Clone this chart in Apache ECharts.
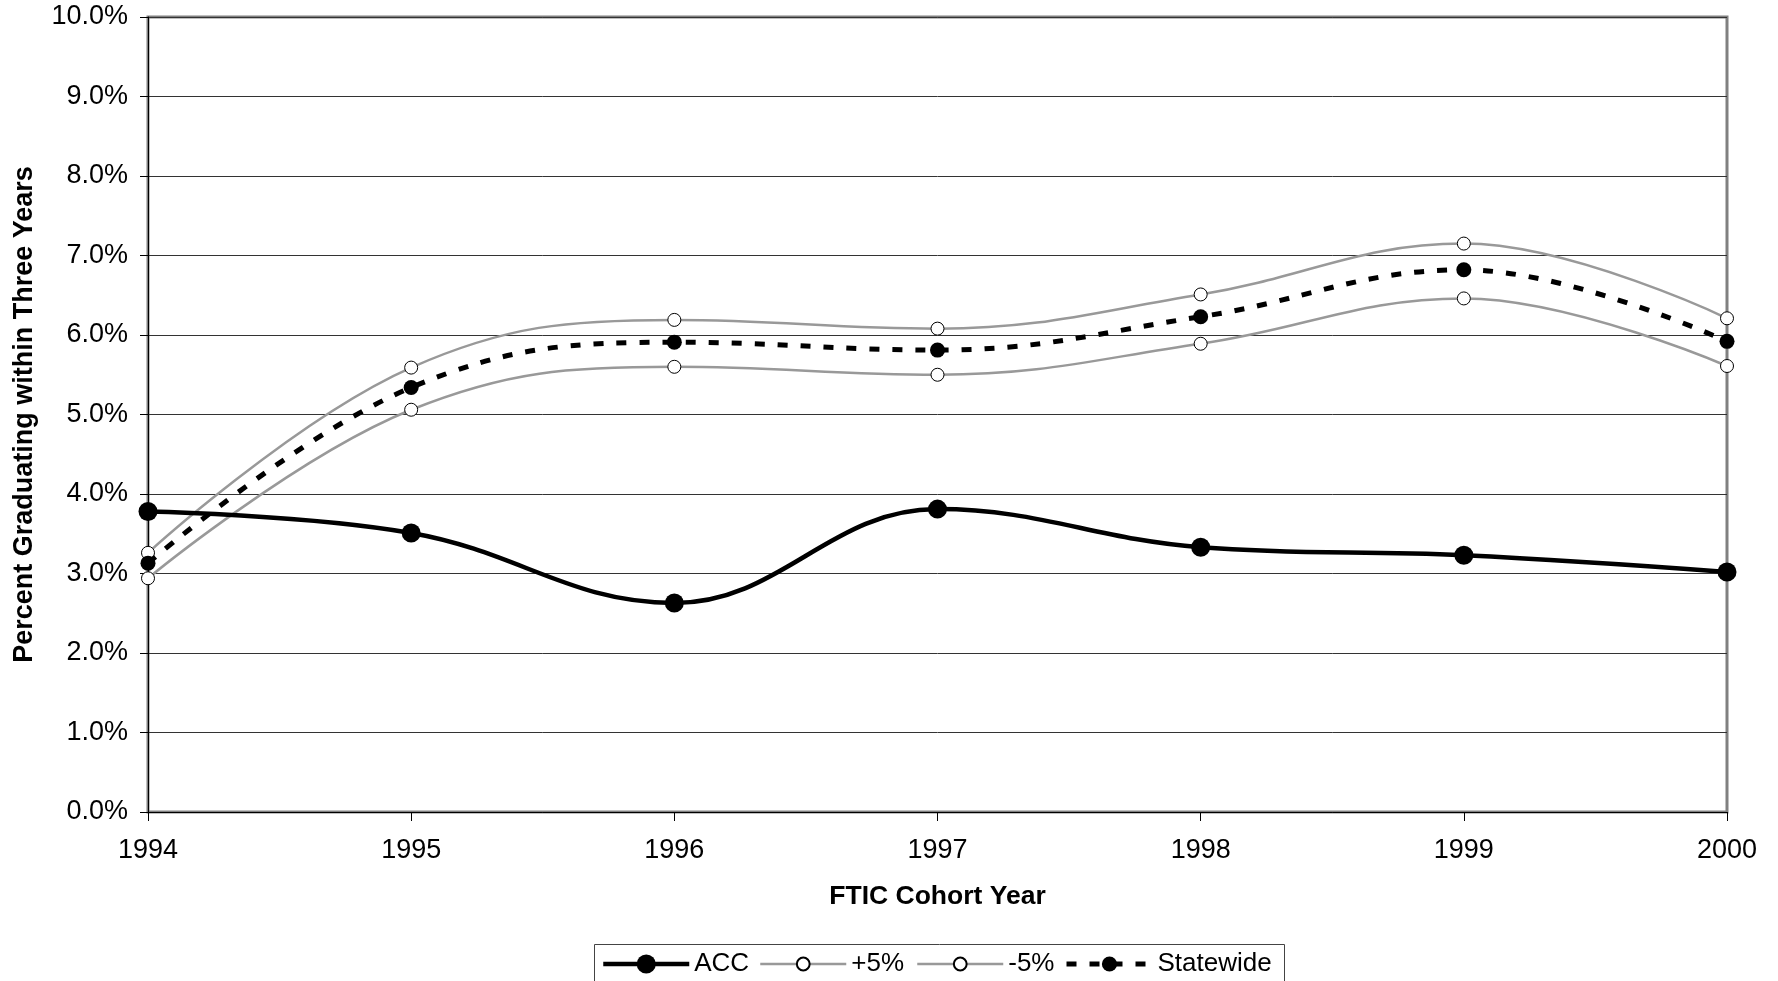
<!DOCTYPE html>
<html>
<head>
<meta charset="utf-8">
<script src="https://cdn.jsdelivr.net/npm/echarts@6/dist/echarts.min.js"></script>
<style>html,body{margin:0;padding:0;background:#fff;}#c{width:1778px;height:981px;}</style>
</head>
<body>
<div id="c"></div>
<script>
const years = ['1994','1995','1996','1997','1998','1999','2000'];
const acc = [3.78, 3.51, 2.63, 3.81, 3.33, 3.23, 3.02];
const plus5 = [3.26, 5.59, 6.19, 6.08, 6.51, 7.15, 6.21];
const minus5 = [2.94, 5.06, 5.60, 5.50, 5.89, 6.46, 5.61];
const statewide = [3.13, 5.34, 5.91, 5.81, 6.23, 6.82, 5.92];
const seriesNames = ['ACC', '+5%', '-5%', 'Statewide'];
const yTicks = {min: 0, max: 10, interval: 1};

const FONT = '"Liberation Sans", Arial, sans-serif';
const legendLefts = [601, 759, 916, 1064];
const legendHeights = [24, 16, 16, 19];
const legendLines = [
  {color: '#000', width: 4.5},
  {color: '#999', width: 2.5},
  {color: '#999', width: 2.5},
  {color: '#000', width: 5, type: [10, 13]}
];
const legends = seriesNames.map((n, i) => ({
  left: legendLefts[i], top: 951, padding: 0,
  itemWidth: 86, itemHeight: legendHeights[i],
  selectedMode: false,
  textStyle: {fontFamily: FONT, fontSize: 26, color: '#000'},
  data: [{name: n, lineStyle: legendLines[i]}]
}));

const chart = echarts.init(document.getElementById('c'));
chart.setOption({
  animation: false,
  backgroundColor: '#fff',
  textStyle: {fontFamily: FONT, color: '#000'},
  grid: {left: 148, right: 51, top: 17, bottom: 169, show: true, borderColor: '#808080', borderWidth: 3, backgroundColor: 'transparent'},
  graphic: [{
    type: 'rect', left: 592, top: 942, silent: true,
    shape: {width: 690, height: 38},
    style: {fill: 'none', stroke: '#444', lineWidth: 1}
  }],
  legend: legends,
  xAxis: {
    type: 'category', data: years, boundaryGap: false,
    name: 'FTIC Cohort Year', nameLocation: 'middle', nameGap: 71,
    nameTextStyle: {fontFamily: FONT, fontSize: 26.5, fontWeight: 'bold', color: '#000'},
    axisLine: {show: true, lineStyle: {color: '#000', width: 1}},
    axisTick: {show: true, length: 9, lineStyle: {color: '#000'}},
    axisLabel: {fontFamily: FONT, fontSize: 27, color: '#000', margin: 25},
    splitLine: {show: false}
  },
  yAxis: {
    type: 'value', min: yTicks.min, max: yTicks.max, interval: yTicks.interval,
    name: 'Percent Graduating within Three Years', nameLocation: 'middle', nameGap: 110, nameRotate: 90,
    nameTextStyle: {fontFamily: FONT, fontSize: 27, fontWeight: 'bold', color: '#000'},
    axisLine: {show: true, lineStyle: {color: '#000', width: 1}},
    axisTick: {show: true, length: 8, lineStyle: {color: '#000'}},
    axisLabel: {fontFamily: FONT, fontSize: 27, color: '#000', margin: 20, formatter: v => v.toFixed(1) + '%'},
    splitLine: {show: true, lineStyle: {color: '#333', width: 1}}
  },
  series: [
    {name: seriesNames[0], type: 'line', data: acc, smooth: 0.4, z: 5,
     symbol: 'circle', symbolSize: 19,
     lineStyle: {color: '#000', width: 4.5},
     itemStyle: {color: '#000', borderColor: '#000', borderWidth: 0}},
    {name: seriesNames[1], type: 'line', data: plus5, smooth: 0.4, z: 3,
     symbol: 'circle', symbolSize: 13,
     lineStyle: {color: '#999', width: 2.5},
     itemStyle: {color: '#fff', borderColor: '#000', borderWidth: 1}},
    {name: seriesNames[2], type: 'line', data: minus5, smooth: 0.4, z: 3,
     symbol: 'circle', symbolSize: 13,
     lineStyle: {color: '#999', width: 2.5},
     itemStyle: {color: '#fff', borderColor: '#000', borderWidth: 1}},
    {name: seriesNames[3], type: 'line', data: statewide, smooth: 0.4, z: 4,
     symbol: 'circle', symbolSize: 15,
     lineStyle: {color: '#000', width: 5, type: [10, 13]},
     itemStyle: {color: '#000', borderColor: '#000', borderWidth: 0}}
  ]
});
</script>
</body>
</html>
